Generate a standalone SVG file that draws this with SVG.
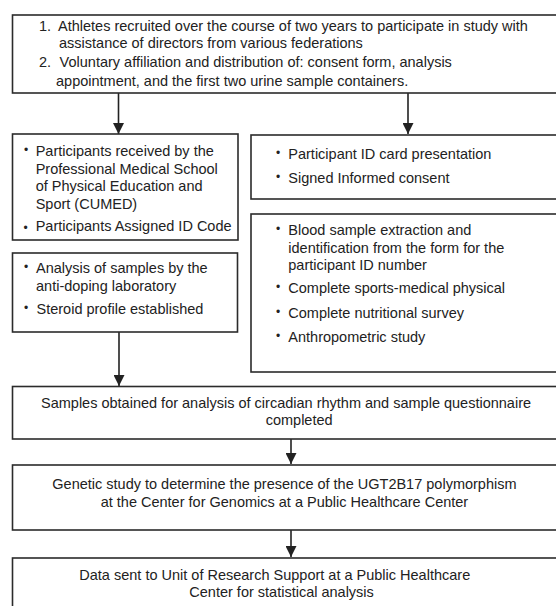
<svg xmlns="http://www.w3.org/2000/svg" width="556" height="606" viewBox="0 0 556 606">
<defs>
<style>
.box{fill:#fff;stroke:#2b2b2b;stroke-width:1.6}
.t{font-family:"Liberation Sans",Arial,sans-serif;font-size:14.5px;fill:#222}
.b{font-family:"Liberation Sans",Arial,sans-serif;font-size:12px;fill:#222}
.c{stroke:#222;stroke-width:1.6;fill:none;marker-end:url(#ah)}
</style>
<marker id="ah" markerUnits="userSpaceOnUse" markerWidth="12" markerHeight="11" refX="11" refY="5.5" orient="auto" viewBox="0 0 12 11">
<path d="M0,0 L11,5.5 L0,11 z" fill="#222"/>
</marker>
</defs>
<rect width="556" height="606" fill="#fff"/>
<g id="connectors">
<line class="c" x1="118.5" y1="93" x2="118.5" y2="134"/>
<line class="c" x1="408" y1="93" x2="408" y2="134"/>
<line class="c" x1="119" y1="332" x2="119" y2="386"/>
<line class="c" x1="291" y1="439" x2="291" y2="464"/>
<line class="c" x1="291" y1="530" x2="291" y2="557"/>
</g>
<g id="node-recruit">
<rect class="box" x="12.5" y="15" width="600" height="78"/>
<text class="t" x="39" y="30.7">1.</text>
<text class="t" x="58" y="30.7">Athletes recruited over the course of two years to participate in study with</text>
<text class="t" x="59" y="48.3">assistance of directors from various federations</text>
<text class="t" x="39" y="66.7">2.</text>
<text class="t" x="59.6" y="66.7">Voluntary affiliation and distribution of: consent form, analysis</text>
<text class="t" x="56" y="86">appointment, and the first two urine sample containers.</text>
</g>
<g id="node-cumed">
<rect class="box" x="12.5" y="134" width="225.5" height="106"/>
<text class="b" x="24" y="154">•</text>
<text class="t" x="35.7" y="156">Participants received by the</text>
<text class="t" x="35.7" y="173.5">Professional Medical School</text>
<text class="t" x="35.7" y="191">of Physical Education and</text>
<text class="t" x="35.7" y="208.5">Sport (CUMED)</text>
<text class="b" x="23.5" y="232">•</text>
<text class="t" x="35.7" y="230.7">Participants Assigned ID Code</text>
</g>
<g id="node-id">
<rect class="box" x="251" y="135" width="360" height="64"/>
<text class="b" x="276" y="157">•</text>
<text class="t" x="288.3" y="159">Participant ID card presentation</text>
<text class="b" x="276" y="180.7">•</text>
<text class="t" x="288.3" y="182.7">Signed Informed consent</text>
</g>
<g id="node-lab">
<rect class="box" x="12.5" y="253" width="225" height="79"/>
<text class="b" x="24" y="271">•</text>
<text class="t" x="36" y="273">Analysis of samples by the</text>
<text class="t" x="36" y="290.7">anti-doping laboratory</text>
<text class="b" x="24" y="312">•</text>
<text class="t" x="36.5" y="314">Steroid profile established</text>
</g>
<g id="node-blood">
<rect class="box" x="251" y="214" width="360" height="158"/>
<text class="b" x="276" y="233">•</text>
<text class="t" x="288.3" y="235">Blood sample extraction and</text>
<text class="t" x="288.3" y="252.7">identification from the form for the</text>
<text class="t" x="288.3" y="270">participant ID number</text>
<text class="b" x="276" y="291.3">•</text>
<text class="t" x="288.3" y="293.3">Complete sports-medical physical</text>
<text class="b" x="276" y="315.7">•</text>
<text class="t" x="288.3" y="317.7">Complete nutritional survey</text>
<text class="b" x="276" y="339.7">•</text>
<text class="t" x="288.3" y="341.7">Anthropometric study</text>
</g>
<g id="node-samples">
<rect class="box" x="12.5" y="386.5" width="600" height="52.5"/>
<text class="t" x="41" y="407.7">Samples obtained for analysis of circadian rhythm and sample questionnaire</text>
<text class="t" x="265.7" y="425">completed</text>
</g>
<g id="node-genetic">
<rect class="box" x="12.5" y="465" width="600" height="65"/>
<text class="t" x="52.3" y="489">Genetic study to determine the presence of the UGT2B17 polymorphism</text>
<text class="t" x="100.7" y="506.7">at the Center for Genomics at a Public Healthcare Center</text>
</g>
<g id="node-data">
<rect class="box" x="12.5" y="558" width="600" height="70"/>
<text class="t" x="79.3" y="580">Data sent to Unit of Research Support at a Public Healthcare</text>
<text class="t" x="189.3" y="597">Center for statistical analysis</text>
</g>
</svg>
